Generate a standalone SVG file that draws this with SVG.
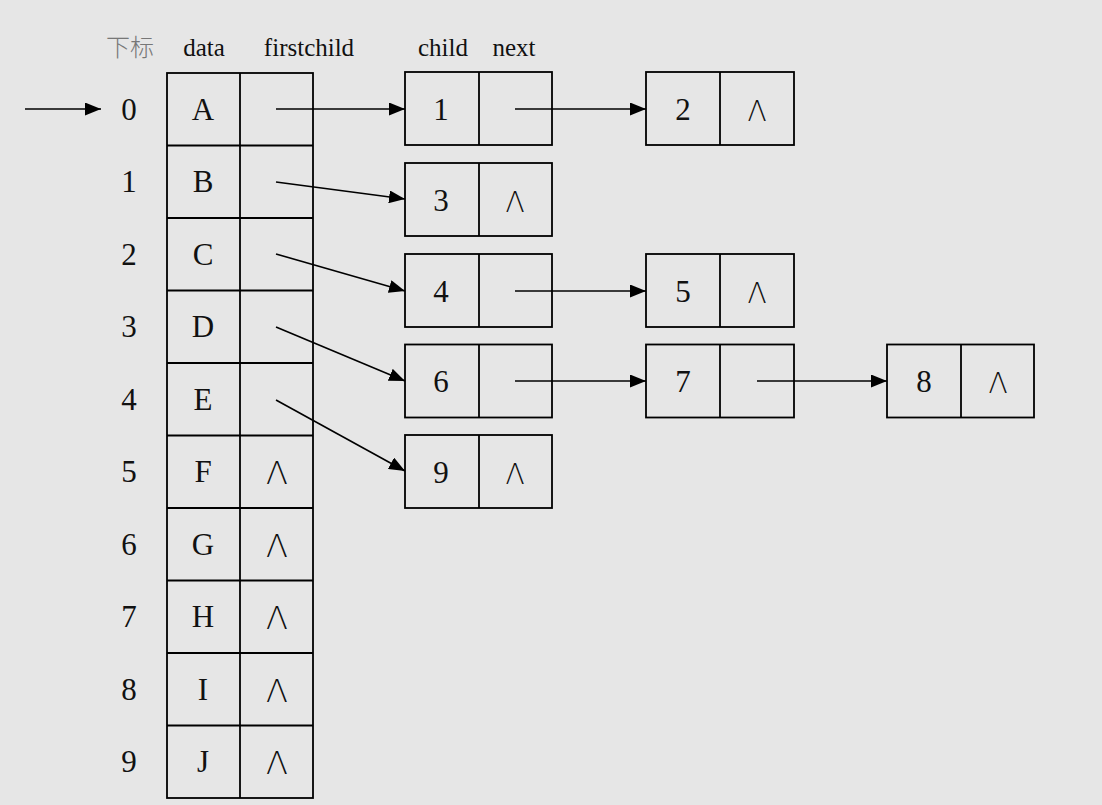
<svg xmlns="http://www.w3.org/2000/svg" width="1102" height="805" viewBox="0 0 1102 805">
<defs>
<marker id="ah" viewBox="0 0 16 13" refX="16" refY="6.5" markerWidth="16" markerHeight="13" markerUnits="userSpaceOnUse" orient="auto">
<path d="M0,0 L16,6.5 L0,13 Z" fill="#000"/>
</marker>
<style>
.bx{fill:none;stroke:#000;stroke-width:1.8}
.t{font-family:"Liberation Serif",serif;font-size:31px;fill:#111;text-anchor:middle}
.h{font-family:"Liberation Serif",serif;font-size:25px;fill:#111;text-anchor:middle}
.nl{font-family:"DejaVu Sans",sans-serif;font-size:32px;fill:#111;text-anchor:middle;font-weight:200}
.ns{font-size:28px}
.cn{font-family:"Noto Sans CJK SC",sans-serif;font-size:24px;fill:#777;text-anchor:middle;font-weight:300}
.c{stroke:#000;stroke-width:1.6;fill:none;marker-end:url(#ah)}
</style>
</defs>
<rect width="1102" height="805" fill="#e6e6e6"/>
<g id="headers">
<text class="cn" x="130" y="56">下标</text>
<text class="h" x="204" y="56">data</text>
<text class="h" x="309" y="56">firstchild</text>
<text class="h" x="443" y="56">child</text>
<text class="h" x="514" y="56">next</text>
</g>
<g id="table">
<rect class="bx" x="167" y="73" width="146" height="725"/>
<line class="bx" x1="240" y1="73" x2="240" y2="798"/>
<path class="bx" d="M167,145.5H313M167,218H313M167,290.5H313M167,363H313M167,435.5H313M167,508H313M167,580.5H313M167,653H313M167,725.5H313"/>
<g class="t">
<text x="129" y="120">0</text><text x="203" y="120">A</text>
<text x="129" y="192">1</text><text x="203" y="192">B</text>
<text x="129" y="265">2</text><text x="203" y="265">C</text>
<text x="129" y="337">3</text><text x="203" y="337">D</text>
<text x="129" y="410">4</text><text x="203" y="410">E</text>
<text x="129" y="482">5</text><text x="203" y="482">F</text>
<text x="129" y="555">6</text><text x="203" y="555">G</text>
<text x="129" y="627">7</text><text x="203" y="627">H</text>
<text x="129" y="700">8</text><text x="203" y="700">I</text>
<text x="129" y="772">9</text><text x="203" y="772">J</text>
</g>
<g class="nl">
<text x="277" y="484">Λ</text>
<text x="277" y="557">Λ</text>
<text x="277" y="629">Λ</text>
<text x="277" y="702">Λ</text>
<text x="277" y="774">Λ</text>
</g>
</g>
<g id="n1"><rect class="bx" x="405" y="72" width="147" height="73"/><line class="bx" x1="479" y1="72" x2="479" y2="145"/><text class="t" x="441" y="120">1</text></g>
<g id="n2"><rect class="bx" x="646" y="72" width="148" height="73"/><line class="bx" x1="720" y1="72" x2="720" y2="145"/><text class="t" x="683" y="120">2</text><text class="nl ns" x="757" y="121">Λ</text></g>
<g id="n3"><rect class="bx" x="405" y="163" width="147" height="73"/><line class="bx" x1="479" y1="163" x2="479" y2="236"/><text class="t" x="441" y="211">3</text><text class="nl ns" x="515" y="212">Λ</text></g>
<g id="n4"><rect class="bx" x="405" y="254" width="147" height="73"/><line class="bx" x1="479" y1="254" x2="479" y2="327"/><text class="t" x="441" y="302">4</text></g>
<g id="n5"><rect class="bx" x="646" y="254" width="148" height="73"/><line class="bx" x1="720" y1="254" x2="720" y2="327"/><text class="t" x="683" y="302">5</text><text class="nl ns" x="757" y="303">Λ</text></g>
<g id="n6"><rect class="bx" x="405" y="344.5" width="147" height="73"/><line class="bx" x1="479" y1="344.5" x2="479" y2="417.5"/><text class="t" x="441" y="392">6</text></g>
<g id="n7"><rect class="bx" x="646" y="344.5" width="148" height="73"/><line class="bx" x1="720" y1="344.5" x2="720" y2="417.5"/><text class="t" x="683" y="392">7</text></g>
<g id="n8"><rect class="bx" x="887" y="344.5" width="147" height="73"/><line class="bx" x1="961" y1="344.5" x2="961" y2="417.5"/><text class="t" x="924" y="392">8</text><text class="nl ns" x="998" y="393">Λ</text></g>
<g id="n9"><rect class="bx" x="405" y="435" width="147" height="73"/><line class="bx" x1="479" y1="435" x2="479" y2="508"/><text class="t" x="441" y="483">9</text><text class="nl ns" x="515" y="484">Λ</text></g>
<g id="connectors">
<line class="c" x1="25" y1="109" x2="101" y2="109"/>
<line class="c" x1="276" y1="109" x2="405" y2="109"/>
<line class="c" x1="515" y1="109" x2="646" y2="109"/>
<line class="c" x1="276" y1="182" x2="405" y2="199"/>
<line class="c" x1="276" y1="254" x2="405" y2="291"/>
<line class="c" x1="515" y1="291" x2="646" y2="291"/>
<line class="c" x1="276" y1="327" x2="405" y2="381"/>
<line class="c" x1="515" y1="381" x2="646" y2="381"/>
<line class="c" x1="757" y1="381" x2="887" y2="381"/>
<line class="c" x1="276" y1="400" x2="405" y2="471"/>
</g>
</svg>
